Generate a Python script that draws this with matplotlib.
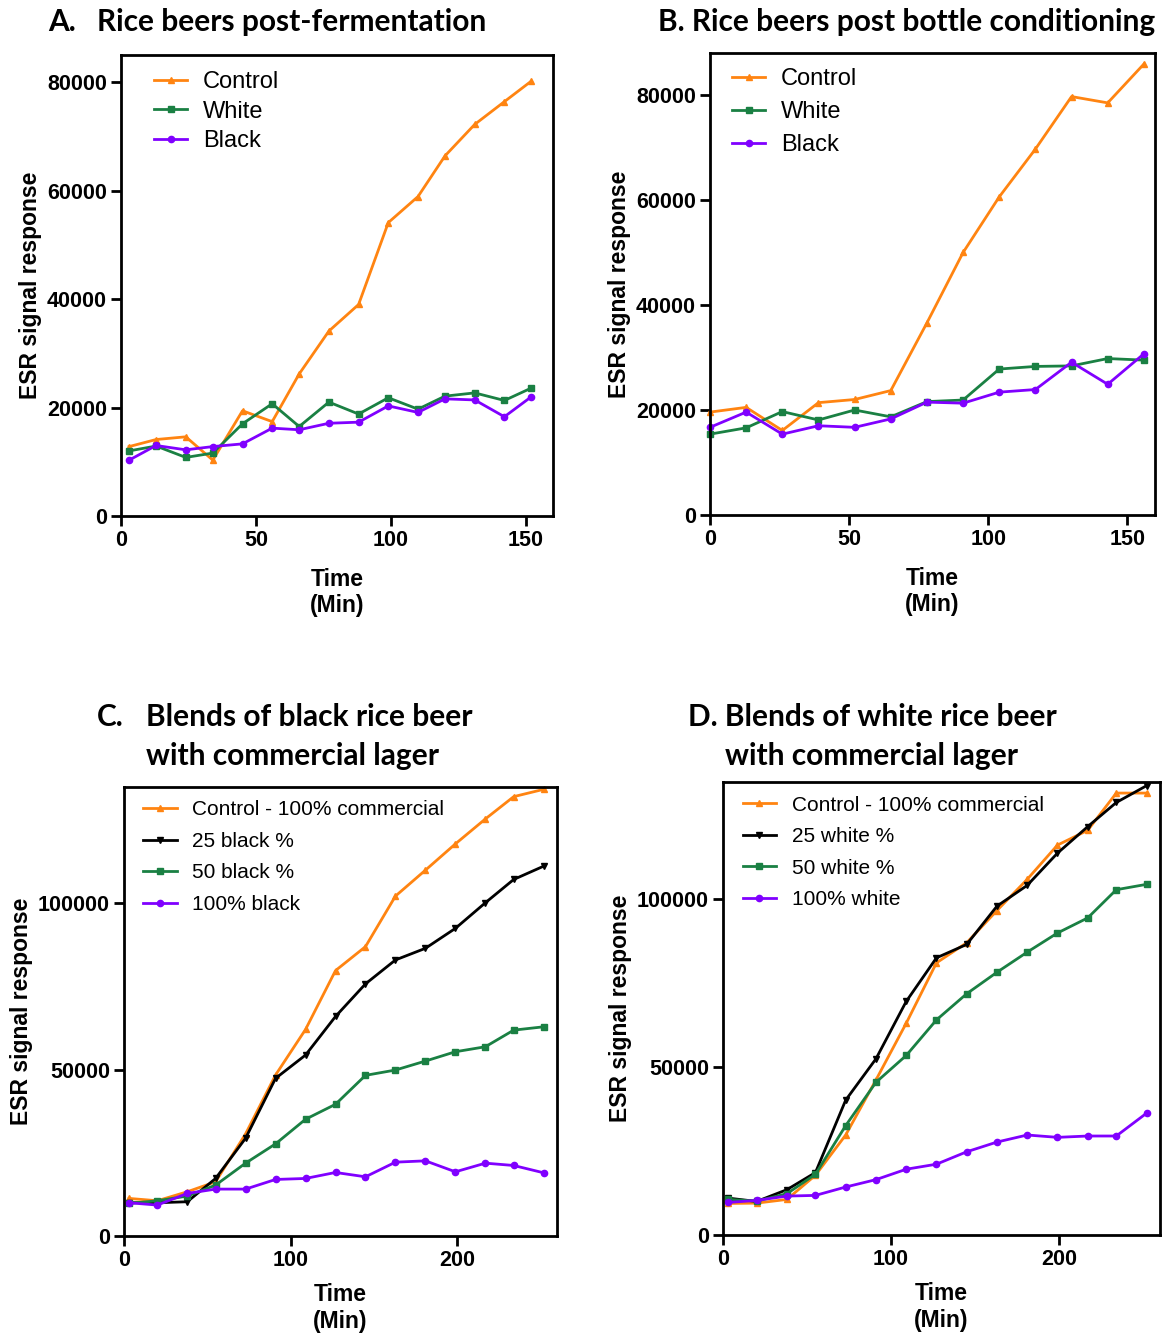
import numpy as np
import matplotlib
matplotlib.use("Agg")
from matplotlib import pyplot as plt

plt.rcParams["font.family"] = ["Liberation Sans", "DejaVu Sans"]

# ---- data ----
t_a = [3, 13, 24, 34, 45, 56, 66, 77, 88, 99, 110, 120, 131, 142, 152]
a_control = [12800, 14100, 14600, 10300, 19400, 17400, 26200, 34100, 39000, 54100, 58900, 66400, 72200, 76400, 80200]
a_white = [12000, 12900, 10800, 11600, 17000, 20700, 16500, 21000, 18800, 21800, 19700, 22100, 22700, 21300, 23600]
a_black = [10300, 13000, 12200, 12800, 13300, 16200, 15900, 17100, 17300, 20300, 19100, 21600, 21400, 18300, 22000]

t_b = [0, 13, 26, 39, 52, 65, 78, 91, 104, 117, 130, 143, 156]
b_control = [19600, 20500, 16100, 21400, 22000, 23700, 36600, 50000, 60600, 69700, 79700, 78500, 85900]
b_white = [15400, 16600, 19700, 18100, 20000, 18700, 21600, 21900, 27800, 28300, 28400, 29800, 29500]
b_black = [16700, 19600, 15400, 17000, 16700, 18300, 21500, 21300, 23400, 23900, 29100, 24900, 30700]

t_cd = [3, 20, 38, 55, 73, 91, 109, 127, 145, 163, 181, 199, 217, 234, 252]
c_control = [11300, 10600, 13300, 16300, 30700, 48400, 62100, 79800, 87000, 102200, 110000, 117900, 125400, 132100, 134300]
c_25 = [10000, 10000, 10300, 17300, 29400, 47400, 54400, 66000, 75800, 83000, 86500, 92500, 100200, 107200, 111200]
c_50 = [9800, 10600, 12000, 15300, 21900, 27700, 35100, 39600, 48300, 49900, 52600, 55400, 56900, 61900, 62900]
c_100 = [10000, 9300, 12800, 14100, 14100, 17000, 17300, 19100, 17800, 22200, 22600, 19300, 21900, 21200, 19000]

d_control = [9400, 9500, 10600, 17800, 29800, 46200, 63100, 81100, 87100, 96700, 106000, 116200, 120600, 131700, 131700]
d_25 = [11000, 10000, 13500, 18600, 40200, 52500, 69600, 82600, 86600, 98000, 104200, 113800, 121700, 128900, 133900]
d_50 = [10600, 10100, 12300, 18100, 32600, 45500, 53500, 64100, 71900, 78300, 84300, 90000, 94500, 102900, 104500]
d_100 = [9700, 10300, 11600, 11800, 14300, 16500, 19600, 21100, 24800, 27700, 29800, 29100, 29500, 29500, 36300]

ORANGE = "#ff8411"
GREEN = "#1a8043"
PURPLE = "#8000ff"
BLACK = "#000000"

W, H = 1163, 1333
fig = plt.figure(figsize=(W / 100, H / 100), dpi=100)

TICKFONT = dict(family="Liberation Sans", weight="bold", size=15.5)
LABELFONT = dict(family="Liberation Sans", weight="bold", size=16.5)
TITLEFONT = dict(family="Lato", weight="bold", size=21.5)


def make_axes(l, t, r, b):
    return fig.add_axes([l / W, 1 - b / H, (r - l) / W, (b - t) / H])


def style(ax, xlim, ylim, xticks, yticks, xpad=12):
    ax.set_xlim(*xlim)
    ax.set_ylim(*ylim)
    ax.set_xticks(xticks)
    ax.set_yticks(yticks)
    ax.set_xticklabels([str(v) for v in xticks], fontdict=TICKFONT)
    ax.set_yticklabels([str(v) for v in yticks], fontdict=TICKFONT)
    for s in ax.spines.values():
        s.set_linewidth(2)
    ax.tick_params(direction="out", length=7, width=2, pad=3)
    ax.set_ylabel("ESR signal response", fontdict=LABELFONT)
    ax.set_xlabel("Time\n(Min)", fontdict=LABELFONT, linespacing=1.2, labelpad=xpad)


def draw(ax, x, y, color, marker, label, ms=4.5):
    ax.plot(x, y, color=color, lw=2, marker=marker, ms=ms, label=label, clip_on=False)


def legend(ax, anchor, size, spacing, hl, tp):
    ax.legend(loc="upper left", bbox_to_anchor=anchor, frameon=False,
              prop=dict(family="Liberation Sans", size=size), handlelength=hl,
              handletextpad=tp, labelspacing=spacing, borderpad=0, borderaxespad=0)


# A
ax = make_axes(121, 55, 553, 516)
draw(ax, t_a, a_control, ORANGE, "^", "Control")
draw(ax, t_a, a_white, GREEN, "s", "White")
draw(ax, t_a, a_black, PURPLE, "o", "Black")
style(ax, (0, 160), (0, 85000), [0, 50, 100, 150], [0, 20000, 40000, 60000, 80000])
legend(ax, (0.077, 0.965), 17, 0.32, 1.4, 0.65)

# B
ax = make_axes(710, 53, 1155, 515)
draw(ax, t_b, b_control, ORANGE, "^", "Control")
draw(ax, t_b, b_white, GREEN, "s", "White")
draw(ax, t_b, b_black, PURPLE, "o", "Black")
style(ax, (0, 160), (0, 88000), [0, 50, 100, 150], [0, 20000, 40000, 60000, 80000])
legend(ax, (0.05, 0.968), 17, 0.47, 1.4, 0.65)

# C
ax = make_axes(124, 787, 557, 1236)
draw(ax, t_cd, c_control, ORANGE, "^", "Control - 100% commercial")
draw(ax, t_cd, c_25, BLACK, "v", "25 black %")
draw(ax, t_cd, c_50, GREEN, "s", "50 black %")
draw(ax, t_cd, c_100, PURPLE, "o", "100% black")
style(ax, (0, 260), (0, 135000), [0, 100, 200], [0, 50000, 100000], xpad=9)
legend(ax, (0.045, 0.97), 15, 0.6, 1.6, 0.75)

# D
ax = make_axes(723, 782, 1160, 1235)
draw(ax, t_cd, d_control, ORANGE, "^", "Control - 100% commercial")
draw(ax, t_cd, d_25, BLACK, "v", "25 white %")
draw(ax, t_cd, d_50, GREEN, "s", "50 white %")
draw(ax, t_cd, d_100, PURPLE, "o", "100% white")
style(ax, (0, 260), (0, 135000), [0, 100, 200], [0, 50000, 100000], xpad=9)
legend(ax, (0.045, 0.97), 15, 0.6, 1.6, 0.75)

# titles
def ftext(x, y, s):
    fig.text(x / W, 1 - y / H, s, ha="left", va="center", **TITLEFONT)

ftext(48, 22, "A.")
ftext(97, 22, "Rice beers post-fermentation")
ftext(658, 22, "B. Rice beers post bottle conditioning")
ftext(97, 717, "C.")
ftext(146, 717, "Blends of black rice beer")
ftext(146, 756, "with commercial lager")
ftext(688, 717, "D. Blends of white rice beer")
ftext(725, 756, "with commercial lager")

fig.savefig("out.png", dpi=100)
